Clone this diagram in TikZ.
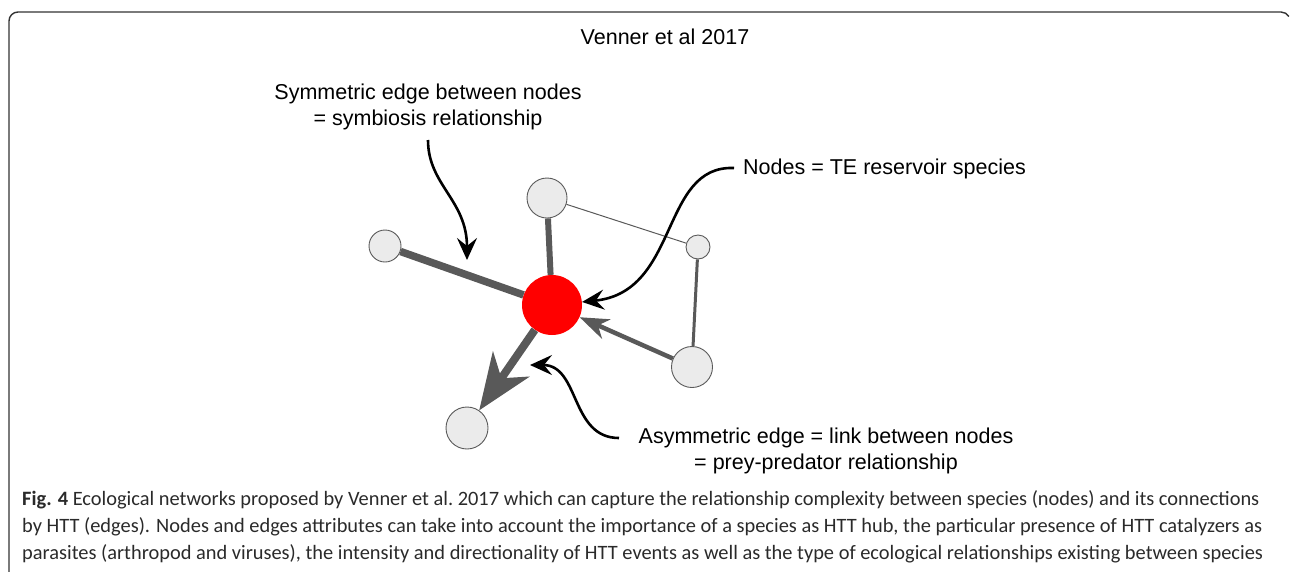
\documentclass[tikz,border=0pt]{standalone}
\usepackage{fontspec}
\setmainfont{Liberation Sans}
\newfontfamily\capfont{Carlito}
\usetikzlibrary{arrows.meta}
\definecolor{edgegray}{HTML}{595959}
\definecolor{nodefill}{HTML}{EBEBEB}
\definecolor{nodeline}{HTML}{5A5A5A}
\definecolor{framec}{HTML}{333333}
\definecolor{capc}{HTML}{2A2A2A}
\begin{document}
\begin{tikzpicture}[x=1pt,y=-1pt,
  sp/.style={circle, draw=nodeline, line width=0.9pt, fill=nodefill, inner sep=0pt, minimum size=#1},
  hub/.style={circle, fill=red, inner sep=0pt, minimum size=60pt},
  lbl/.style={font=\fontsize{21.5}{25.5}\selectfont, inner sep=0pt, text=black},
  capl/.style={font=\capfont\fontsize{20.4}{27}\selectfont, inner sep=0pt, anchor=base west, text=capc},
  edg/.style={draw=edgegray, line width=#1},
  annot/.style={draw=black, line width=2.6pt, -{Stealth[length=22pt, width=20pt, inset=8pt]}}
]
\useasboundingbox (0,0) rectangle (1290,571);
% frame
\draw[framec, line width=1.4pt] (9,575) -- (9,21) arc[start angle=180, end angle=270, radius=9] -- (1281,12) arc[start angle=270, end angle=330, radius=9];

% title
\node[lbl] (title) at (665,37) {Venner et al 2017};

% network nodes
\node[hub] (hub) at (552,305) {};
\node[sp=40pt] (top) at (547,198) {};
\node[sp=32pt] (left) at (385,246) {};
\node[sp=24pt] (small) at (698,247) {};
\node[sp=41pt] (rb) at (692,367) {};
\node[sp=42pt] (bl) at (467,428) {};

% edges
\draw[edg=7.5pt] (left) -- (hub);
\draw[edg=6pt] (top) -- (hub);
\draw[edg=1pt] (top) -- (small);
\draw[edg=3pt] (small) -- (rb);
\draw[edg=4.5pt, -{Stealth[length=29pt, width=21pt, inset=9pt]}] (rb) -- (hub);
\draw[edg=8pt, -{Stealth[length=56pt, width=44pt, inset=17pt]}] (hub) -- (bl);

% labels
\node[lbl, align=center] (symtxt) at (428,107) {Symmetric edge between nodes\\= symbiosis relationship};
\node[lbl, anchor=west] (nodestxt) at (743,169) {Nodes = TE reservoir species};
\node[lbl, align=center] (asymtxt) at (826,451) {Asymmetric edge = link between nodes\\= prey-predator relationship};

% annotation arrows
\coordinate (a1s) at (428,140);
\coordinate (a1e) at (467,260);
\coordinate (a2s) at (734,168);
\coordinate (a3s) at (619,438);
\coordinate (a3e) at (530,365);
\draw[annot] (a1s) .. controls (428,185) and (467,200) .. (a1e);
\draw[annot] (a2s) .. controls (660,165) and (680,292) .. (hub);
\draw[annot] (a3s) .. controls (570,438) and (580,365) .. (a3e);

% caption
\node[capl] (cap1) at (22,505) {\textbf{Fig. 4} Ecological networks proposed by Venner et al.\ 2017 which can capture the relationship complexity between species (nodes) and its connections};
\node[capl] (cap2) at (22,532) {by HTT (edges). Nodes and edges attributes can take into account the importance of a species as HTT hub, the particular presence of HTT catalyzers as};
\node[capl] (cap3) at (22,559) {parasites (arthropod and viruses), the intensity and directionality of HTT events as well as the type of ecological relationships existing between species};
\end{tikzpicture}
\end{document}
